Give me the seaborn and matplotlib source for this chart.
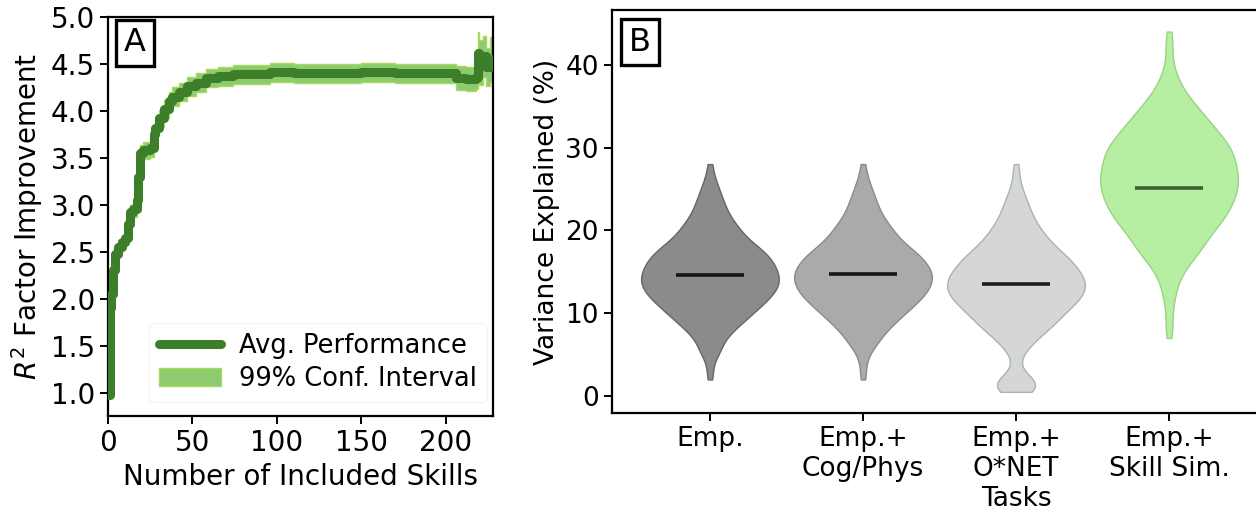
import numpy as np
import pandas as pd
import matplotlib
matplotlib.use("Agg")
import matplotlib.pyplot as plt
import seaborn as sns

# ---- Panel A: R^2 improvement vs number of included skills ----
skills = [0, 1, 2, 3, 4, 6, 8, 10, 12, 13, 15, 17, 18, 19, 21, 23, 25, 27, 28, 30,
          33, 36, 38, 42, 47, 52, 58, 65, 74, 85, 96, 110, 130, 150, 170, 190, 206,
          212, 218, 219, 220, 222, 224, 226, 228]
avg_perf = [0.97, 1.90, 2.05, 2.30, 2.48, 2.55, 2.60, 2.65, 2.80, 2.92, 2.95, 3.05,
            3.30, 3.55, 3.58, 3.58, 3.60, 3.75, 3.82, 3.92, 4.02, 4.10, 4.15, 4.20,
            4.26, 4.30, 4.35, 4.37, 4.39, 4.39, 4.41, 4.40, 4.40, 4.41, 4.40, 4.40,
            4.35, 4.34, 4.36, 4.62, 4.52, 4.58, 4.47, 4.55, 4.50]
ci_half = [0.03, 0.05, 0.06, 0.07, 0.07, 0.07, 0.07, 0.08, 0.08, 0.08, 0.08, 0.08,
           0.08, 0.09, 0.09, 0.09, 0.09, 0.09, 0.09, 0.09, 0.10, 0.10, 0.10, 0.10,
           0.10, 0.10, 0.10, 0.10, 0.10, 0.10, 0.10, 0.10, 0.10, 0.10, 0.10, 0.10,
           0.13, 0.13, 0.13, 0.22, 0.24, 0.22, 0.20, 0.24, 0.22]

# ---- Panel B: variance explained (%) per model, as frequency tables ----
models = ["Emp.", "Emp.+\nCog/Phys", "Emp.+\nO*NET\nTasks", "Emp.+\nSkill Sim."]
estimates = [14.6, 14.7, 13.5, 25.1]

emp_values = [2, 3, 4, 5, 6, 7, 8, 9, 10, 11, 12, 13, 14, 15, 16, 17, 18, 19, 20,
              21, 22, 23, 24, 25, 26, 27, 28]
emp_counts = [1, 1, 1, 3, 4, 5, 8, 11, 14, 17, 20, 22, 23, 22, 21, 19, 16, 12, 10,
              8, 6, 5, 4, 3, 2, 1, 1]

cog_values = [2, 3, 4, 5, 6, 7, 8, 9, 10, 11, 12, 13, 14, 15, 16, 17, 18, 19, 20,
              21, 22, 23, 24, 25, 26, 27, 28]
cog_counts = [1, 1, 1, 2, 4, 6, 8, 11, 14, 17, 20, 22, 23, 23, 21, 19, 15, 12, 10,
              8, 6, 5, 4, 3, 2, 1, 1]

onet_values = [0.5, 1.5, 2.5, 4, 5, 6, 7, 8, 9, 10, 11, 12, 13, 14, 15, 16, 17, 18,
               19, 20, 21, 22, 23, 24, 25, 26, 27, 28]
onet_counts = [6, 10, 3, 1, 2, 4, 7, 10, 13, 15, 18, 21, 22, 22, 20, 18, 16, 12,
               10, 8, 6, 5, 4, 3, 2, 1, 1, 1]

sim_values = [7, 8, 9, 10, 11, 12, 13, 14, 15, 16, 17, 18, 19, 20, 21, 22, 23, 24,
              25, 26, 27, 28, 29, 30, 31, 32, 33, 34, 35, 36, 37, 38, 39, 40, 41,
              42, 43, 44]
sim_counts = [1, 1, 1, 1, 1, 2, 2, 3, 4, 6, 8, 10, 11, 13, 15, 17, 18, 19, 20, 20,
              20, 19, 19, 18, 16, 14, 12, 10, 8, 6, 4, 3, 2, 1, 1, 1, 1, 1]

fill_colors = ["#8b8b8b", "#aaaaaa", "#d4d7d4", "#b6eea2"]
edge_colors = ["#666666", "#8a8a8a", "#aab0bd", "#98d483"]
estimate_colors = ["#151515", "#151515", "#1e1e1e", "#3b5e37"]

sns.set_style("ticks")
plt.rcParams["font.family"] = ["DejaVu Sans"]
for key in ["text.color", "axes.labelcolor", "xtick.color", "ytick.color",
            "axes.edgecolor"]:
    plt.rcParams[key] = "black"
plt.rcParams["axes.linewidth"] = 1.6
plt.rcParams["xtick.major.width"] = 1.4
plt.rcParams["ytick.major.width"] = 1.4
plt.rcParams["xtick.major.size"] = 6
plt.rcParams["ytick.major.size"] = 6

fig = plt.figure(figsize=(12.56, 5.16), dpi=100)
axA = fig.add_axes([108 / 1256, 1 - 416 / 516, 385 / 1256, 399 / 516])
axB = fig.add_axes([612 / 1256, 1 - 413 / 516, 655 / 1256, 403 / 516])

# Panel A
lo = np.array(avg_perf) - np.array(ci_half)
hi = np.array(avg_perf) + np.array(ci_half)
axA.fill_between(skills, lo, hi, step="post", facecolor="#8ccb6e",
                 edgecolor="#a9d95e", linewidth=1.0,
                 label="99% Conf. Interval", zorder=2)
sns.lineplot(x=skills, y=avg_perf, ax=axA, drawstyle="steps-post",
             color="#3d7e2b", linewidth=6.5, label="Avg. Performance", zorder=3)
handles, labels = axA.get_legend_handles_labels()
order = [labels.index("Avg. Performance"), labels.index("99% Conf. Interval")]
leg = axA.legend([handles[i] for i in order], [labels[i] for i in order],
                 loc="lower right", bbox_to_anchor=(0.985, 0.035),
                 fontsize=18.5, handlelength=2.4, handletextpad=0.7,
                 labelspacing=0.25, frameon=True, borderaxespad=0.0)
leg.get_frame().set_edgecolor("#f2f2f2")
leg.get_frame().set_linewidth(1.0)

axA.set_xlim(0, 228)
axA.set_ylim(0.75, 5.0)
axA.set_xticks([0, 50, 100, 150, 200])
ticksA = [1.0, 1.5, 2.0, 2.5, 3.0, 3.5, 4.0, 4.5, 5.0]
axA.set_yticks(ticksA)
axA.set_yticklabels([f"{v:.1f}" for v in ticksA])
axA.tick_params(labelsize=20)
axA.set_xlabel("Number of Included Skills", fontsize=20)
axA.set_ylabel("$R^2$ Factor Improvement", fontsize=20)
axA.text(0.07, 0.935, "A", transform=axA.transAxes, fontsize=23, ha="center",
         va="center",
         bbox=dict(boxstyle="square,pad=0.24", facecolor="white",
                   edgecolor="black", linewidth=2.4))

# Panel B
tables = [(emp_values, emp_counts), (cog_values, cog_counts),
          (onet_values, onet_counts), (sim_values, sim_counts)]
frames = []
for name, (vals, cnts) in zip(models, tables):
    frames.append(pd.DataFrame({"model": name,
                                "variance": np.repeat(vals, cnts)}))
df = pd.concat(frames, ignore_index=True)

sns.violinplot(data=df, x="model", y="variance", hue="model", order=models,
               hue_order=models, palette=fill_colors, legend=False, inner=None,
               cut=0, width=0.9, density_norm="width", linewidth=1.0,
               bw_adjust=0.6, saturation=1.0, ax=axB)
for coll, ec in zip(axB.collections, edge_colors):
    coll.set_edgecolor(ec)

positions = np.arange(len(models))
axB.hlines(estimates, positions - 0.22, positions + 0.22, colors=estimate_colors,
           linewidth=2.6, zorder=4)

axB.set_xlim(-0.64, 3.64)
axB.set_ylim(-2.05, 46.6)
axB.set_yticks([0, 10, 20, 30, 40])
axB.tick_params(labelsize=19)
axB.set_xlabel("")
axB.set_ylabel("Variance Explained (%)", fontsize=19)
axB.text(0.043, 0.92, "B", transform=axB.transAxes, fontsize=23, ha="center",
         va="center",
         bbox=dict(boxstyle="square,pad=0.24", facecolor="white",
                   edgecolor="black", linewidth=2.4))

fig.savefig("out.png", dpi=100)
